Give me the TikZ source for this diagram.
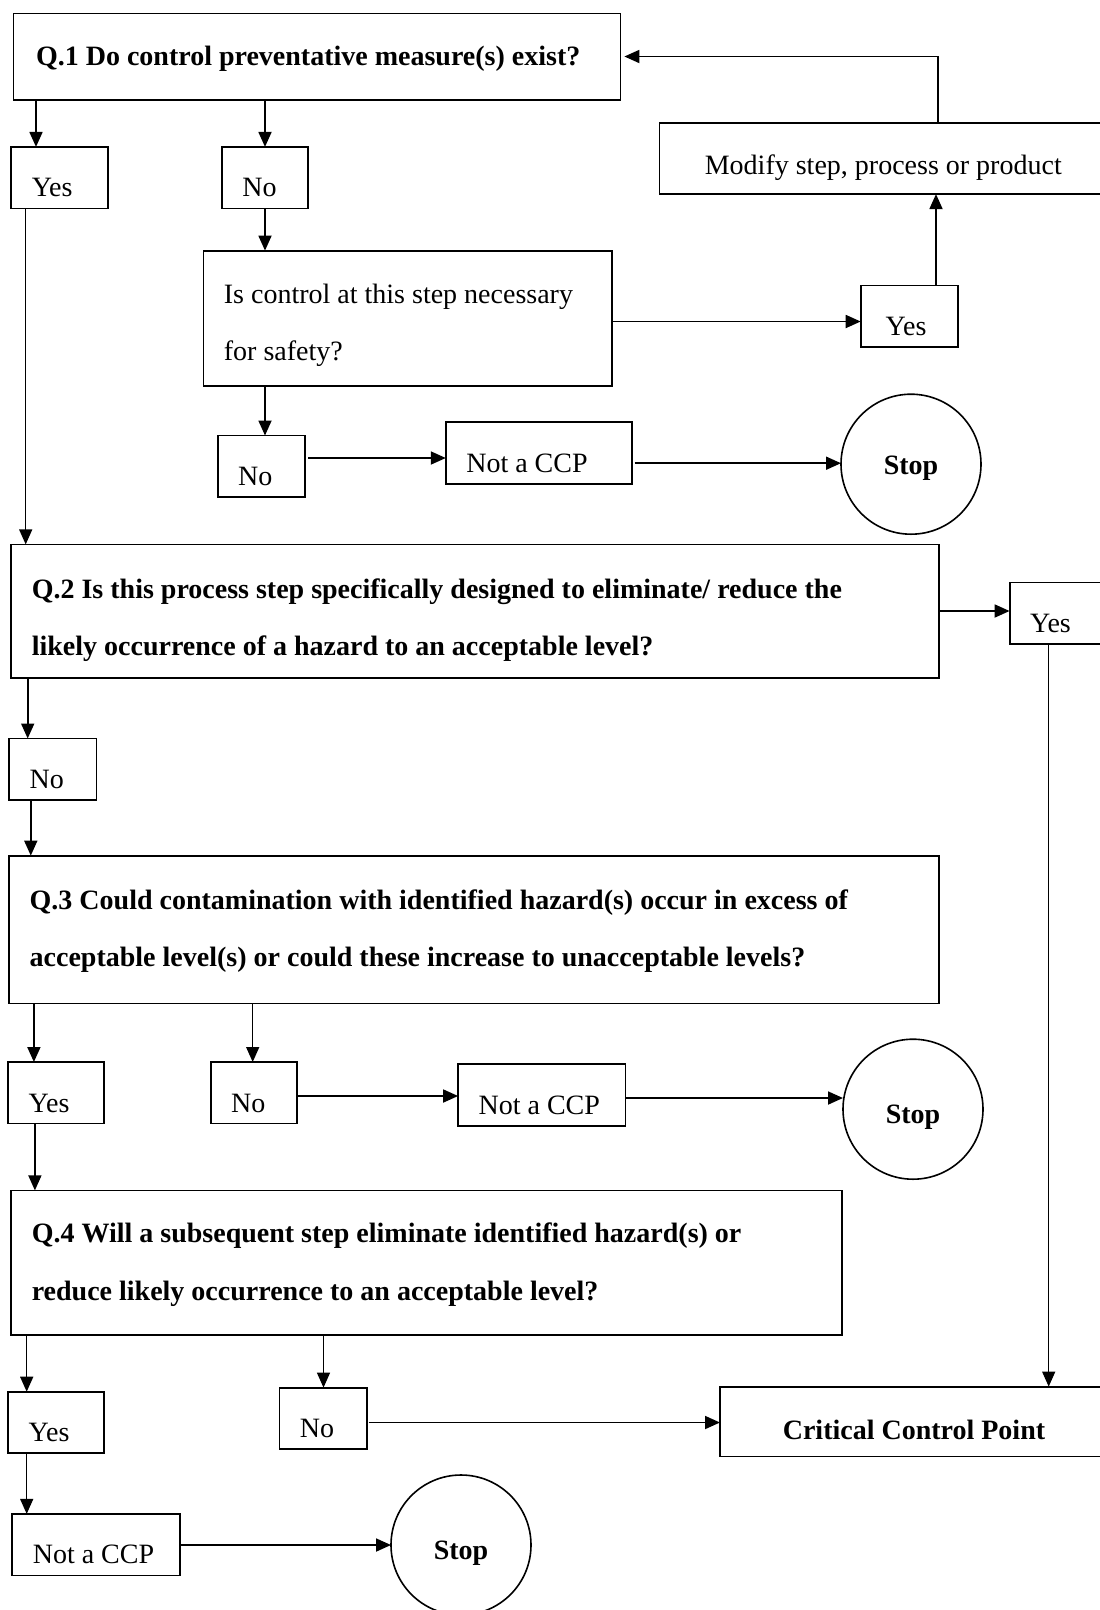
\documentclass[tikz,border=0pt]{standalone}
\usepackage{fontspec}
\setmainfont{Liberation Serif}
\usetikzlibrary{arrows.meta}
\begin{document}
\begin{tikzpicture}[x=1pt,y=-1pt,
  every node/.style={font=\fontsize{28}{57.5}\selectfont, outer sep=0pt},
  box/.style={draw, line width=1.8pt, rectangle, anchor=north west, inner ysep=0pt},
  qbox/.style={box, font=\fontsize{28}{57.5}\selectfont\bfseries, align=flush left, inner xsep=20.5pt},
  sbox/.style={box, inner xsep=20.5pt, text height=50pt, text depth=11.5pt, align=flush left, text width=#1},
  stopc/.style={draw, circle, line width=1.6pt, minimum size=140pt, inner sep=0pt,
    text height=#1, text depth=0pt, font=\fontsize{28}{34}\selectfont\bfseries},
  arr/.style={-{Triangle[length=15pt,width=13pt]}, line width=1.8pt},
  thinarr/.style={arr, line width=1.4pt}
]
\useasboundingbox (0,0) rectangle (1100,1610);

% question 1 and its answers
\node[qbox, text width=561.8pt, inner xsep=22.6pt, minimum height=86.2pt,
  text height=30pt, text depth=11.1pt] (q1) at (13.4,13.4)
  {Q.1 Do control preventative measure(s) exist?};
\node[sbox=55.5pt] (yes1) at (11.3,146.9) {Yes};
\node[sbox=45.2pt] (no1) at (221.9,146.9) {No};
\node[box, align=flush left, text width=367.8pt, inner xsep=20.5pt, minimum height=135.6pt,
  text height=20pt, text depth=50.7pt] (isc) at (203.4,250.6)
  {Is control at this step necessary\\for safety?};
\node[box, minimum width=447.8pt, inner xsep=0pt, text height=51.4pt, text depth=19.4pt] (mod) at (659.4,123.3)
  {Modify step, process or product};
\node[sbox=47.6pt, inner xsep=25pt] (yesm) at (860.7,285.5) {Yes};
\node[sbox=46.3pt] (no2) at (217.7,435.5) {No};
\node[sbox=144.9pt] (ncc1) at (445.8,422.1) {Not a CCP};
\node[stopc=20pt] (stop1) at (911,464.2) {Stop};

% question 2
\node[qbox, text width=886.5pt, minimum height=133.5pt, text height=20pt, text depth=46.3pt] (q2) at (11.3,544.4)
  {Q.2 Is this process step specifically designed to eliminate/ reduce the\\likely occurrence of a hazard to an acceptable level?};
\node[sbox=55.4pt] (yq2) at (1009.6,582.4) {Yes};
\node[sbox=46.3pt] (no3) at (9.2,738.5) {No};

% question 3
\node[qbox, text width=888.5pt, minimum height=147.9pt, text height=20pt, text depth=60.8pt] (q3) at (9.2,855.6)
  {Q.3 Could contamination with identified hazard(s) occur in excess of\\acceptable level(s) or could these increase to unacceptable levels?};
\node[sbox=54.5pt] (yq3) at (8.2,1062) {Yes};
\node[sbox=45.2pt] (nq3) at (210.6,1062) {No};
\node[sbox=126.4pt] (ncc2) at (458.1,1064.1) {Not a CCP};
\node[stopc=29pt] (stop2) at (913,1109.2) {Stop};

% question 4
\node[qbox, text width=789.9pt, minimum height=144.8pt, text height=20pt, text depth=59.7pt] (q4) at (11.3,1190.4)
  {Q.4 Will a subsequent step eliminate identified hazard(s) or\\reduce likely occurrence to an acceptable level?};
\node[sbox=54.5pt] (yq4) at (8.2,1391.7) {Yes};
\node[sbox=46.3pt] (nq4) at (279.4,1387.6) {No};
\node[box, minimum width=388pt, inner xsep=0pt, text height=52.6pt, text depth=17.2pt,
  font=\fontsize{28}{34}\selectfont\bfseries] (ccp) at (720,1386.6) {Critical Control Point};
\node[sbox=126.4pt] (ncc3) at (12.3,1513.9) {Not a CCP};
\node[stopc=28pt] (stop3) at (461,1545) {Stop};

% connectors
\draw[arr] (q1.south -| 36,0) -- (yes1.north -| 36,0);
\draw[arr] (q1.south -| 265,0) -- (no1.north -| 265,0);
\draw[arr] (no1.south -| 265,0) -- (isc.north -| 265,0);
\draw[thinarr] (yes1.south -| 25.7,0) -- (q2.north -| 25.7,0);
\draw[arr] (isc.east |- 0,321.5) -- (yesm.west |- 0,321.5);
\draw[arr] (yesm.north -| 936,0) -- (mod.south -| 936,0);
\draw[arr] (mod.north -| 938,0) |- ([xshift=4pt]q1.east);
\draw[arr] (isc.south -| 265,0) -- (no2.north -| 265,0);
\draw[arr] ([xshift=3pt]no2.east |- 0,458) -- (ncc1.west |- 0,458);
\draw[arr] ([xshift=3pt]ncc1.east |- 0,463.2) -- (stop1.west |- 0,463.2);

\draw[arr] (q2.east |- 0,611) -- (yq2.west |- 0,611);
\draw[thinarr] (yq2.south -| 1048.7,0) -- (ccp.north -| 1048.7,0);
\draw[arr] (q2.south -| 27.7,0) -- (no3.north -| 27.7,0);
\draw[arr] (no3.south -| 30.8,0) -- (q3.north -| 30.8,0);

\draw[arr] (q3.south -| 33.9,0) -- (yq3.north -| 33.9,0);
\draw[thinarr] (q3.south -| 252.7,0) -- (nq3.north -| 252.7,0);
\draw[arr] (nq3.east |- 0,1096) -- (ncc2.west |- 0,1096);
\draw[arr] (ncc2.east |- 0,1098) -- (stop2.west |- 0,1098);
\draw[thinarr] (yq3.south -| 34.9,0) -- (q4.north -| 34.9,0);

\draw[thinarr] (q4.south -| 26.7,0) -- (yq4.north -| 26.7,0);
\draw[thinarr] (q4.south -| 323.5,0) -- (nq4.north -| 323.5,0);
\draw[arr] ([xshift=2pt]nq4.east |- 0,1422.5) -- (ccp.west |- 0,1422.5);
\draw[thinarr] (yq4.south -| 26.7,0) -- (ncc3.north -| 26.7,0);
\draw[arr] (ncc3.east |- stop3.west) -- (stop3.west);
\end{tikzpicture}
\end{document}
